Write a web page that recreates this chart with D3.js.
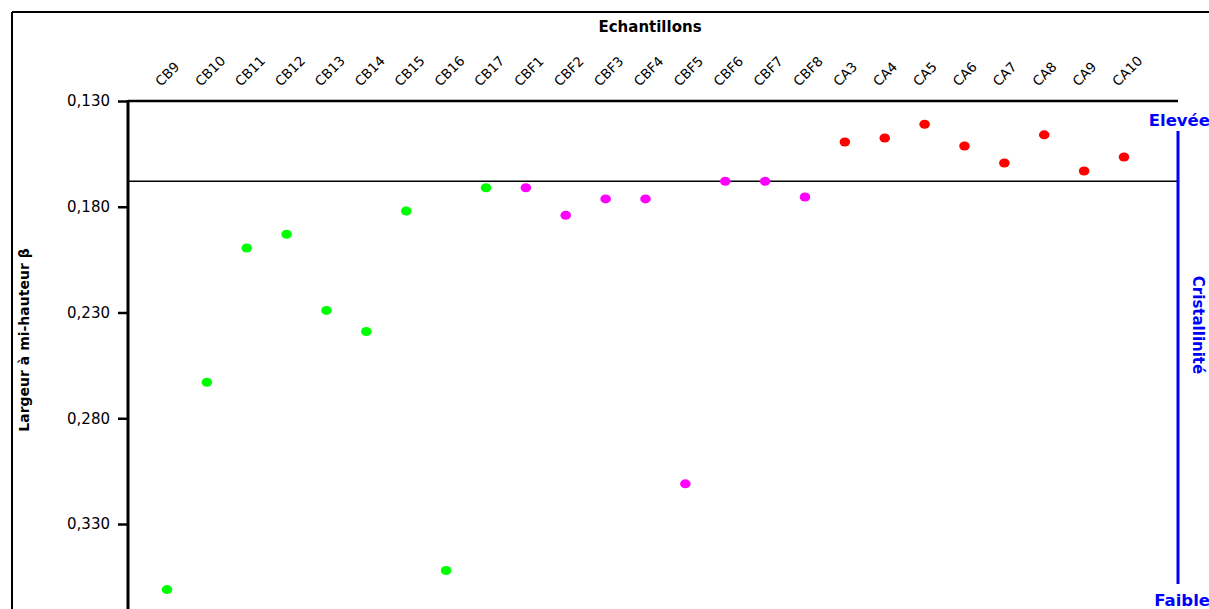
<!DOCTYPE html>
<html><head><meta charset="utf-8">
<script src="https://cdn.jsdelivr.net/npm/d3@7"></script>
<style>body{margin:0;background:#fff;overflow:hidden}svg{display:block}text{font-family:"DejaVu Sans",sans-serif}</style>
</head><body><svg id="c" width="1209" height="609"></svg>
<script>
// Data
const categories = ["CB9","CB10","CB11","CB12","CB13","CB14","CB15","CB16","CB17",
  "CBF1","CBF2","CBF3","CBF4","CBF5","CBF6","CBF7","CBF8",
  "CA3","CA4","CA5","CA6","CA7","CA8","CA9","CA10"];
const seriesCB  = ["CB9","CB10","CB11","CB12","CB13","CB14","CB15","CB16","CB17"];
const valuesCB  = [0.361,0.263,0.1995,0.193,0.229,0.239,0.182,0.352,0.171];
const seriesCBF = ["CBF1","CBF2","CBF3","CBF4","CBF5","CBF6","CBF7","CBF8"];
const valuesCBF = [0.171,0.184,0.1763,0.1763,0.311,0.168,0.168,0.1754];
const seriesCA  = ["CA3","CA4","CA5","CA6","CA7","CA8","CA9","CA10"];
const valuesCA  = [0.1494,0.1475,0.141,0.1513,0.1593,0.146,0.1631,0.1565];
const threshold = 0.168;
const yTicks = [0.13,0.18,0.23,0.28,0.33];
const yTickLabels = ["0,130","0,180","0,230","0,280","0,330"];

const svg = d3.select("#c");
const x = d3.scalePoint().domain(categories).range([167,1124]);
const y = d3.scaleLinear().domain([0.13,0.38]).range([101,629.75]);
const xLeft = 128, xRight = 1178;

// outer frame lines
svg.append("line").attr("x1",12).attr("x2",1209).attr("y1",12).attr("y2",12).attr("stroke","#000").attr("stroke-width",2);
svg.append("line").attr("x1",12).attr("x2",12).attr("y1",12).attr("y2",609).attr("stroke","#000").attr("stroke-width",2);

// title
svg.append("text").attr("x",650).attr("y",32).attr("text-anchor","middle")
  .attr("font-size",15).attr("font-weight","bold").text("Echantillons");

// category labels
svg.append("g").selectAll("text").data(categories).join("text")
  .attr("transform",d=>`translate(${x(d)-6},87) rotate(-45)`)
  .attr("font-size",13.5).text(d=>d);

// y axis
const yAxis = d3.axisLeft(y).tickValues(yTicks).tickFormat((d,i)=>yTickLabels[i]).tickSize(10).tickPadding(8);
const gy = svg.append("g").attr("transform",`translate(${xLeft},0)`).call(yAxis);
gy.select(".domain").remove();
gy.selectAll(".tick line").attr("stroke","#000").attr("stroke-width",2.5);
gy.selectAll(".tick text").attr("font-size",15).attr("fill","#000").style("font-family","'DejaVu Sans',sans-serif");
svg.append("line").attr("x1",xLeft).attr("x2",xLeft).attr("y1",y(0.13)-1).attr("y2",609).attr("stroke","#000").attr("stroke-width",3);

// y title
svg.append("text").attr("transform","translate(29,340) rotate(-90)").attr("text-anchor","middle")
  .attr("font-size",14).attr("font-weight","bold").text("Largeur à mi-hauteur β");

// top line and threshold
svg.append("line").attr("x1",xLeft).attr("x2",xRight).attr("y1",y(0.13)).attr("y2",y(0.13)).attr("stroke","#000").attr("stroke-width",2.5);
svg.append("line").attr("x1",xLeft).attr("x2",xRight).attr("y1",y(threshold)).attr("y2",y(threshold)).attr("stroke","#000").attr("stroke-width",1.5);

// points
function dots(cats, vals, color){
  svg.append("g").selectAll("ellipse").data(cats.map((c,i)=>({c,v:vals[i]}))).join("ellipse")
    .attr("cx",d=>x(d.c)).attr("cy",d=>y(d.v)).attr("rx",5.3).attr("ry",4.5).attr("fill",color);
}
dots(seriesCB, valuesCB, "#00ff00");
dots(seriesCBF, valuesCBF, "#ff00ff");
dots(seriesCA, valuesCA, "#ff0000");

// crystallinity scale
svg.append("line").attr("x1",xRight).attr("x2",xRight).attr("y1",131).attr("y2",584).attr("stroke","#0000ff").attr("stroke-width",3);
svg.append("text").attr("x",1210).attr("y",126).attr("text-anchor","end").attr("fill","#0000ff")
  .attr("font-size",16.5).attr("font-weight","bold").text("Elevée");
svg.append("text").attr("x",1210).attr("y",606).attr("text-anchor","end").attr("fill","#0000ff")
  .attr("font-size",16.5).attr("font-weight","bold").text("Faible");
svg.append("text").attr("transform","translate(1193,325) rotate(90)").attr("text-anchor","middle")
  .attr("fill","#0000ff").attr("font-size",15).attr("font-weight","bold").text("Cristallinité");
</script></body></html>
